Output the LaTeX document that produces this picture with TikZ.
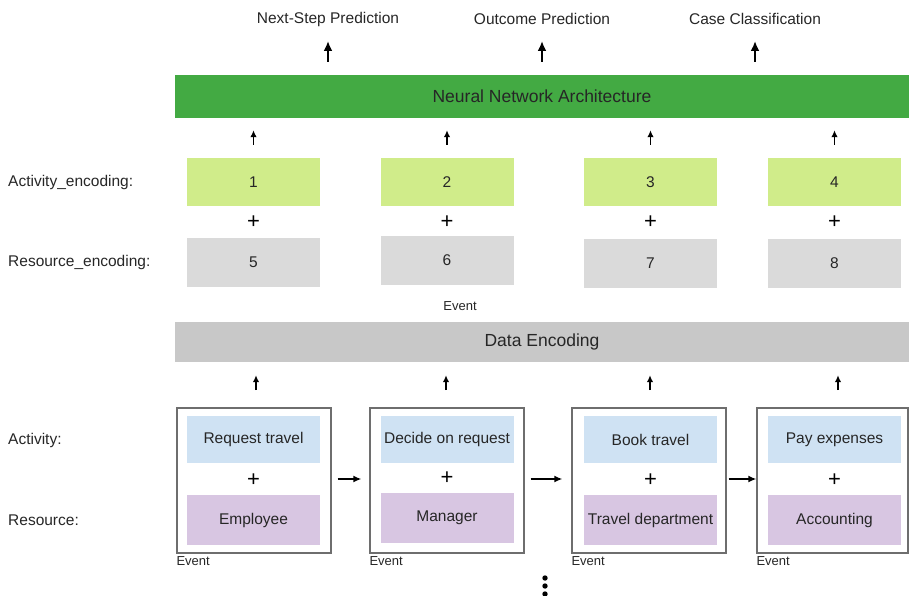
\documentclass[tikz,border=0pt]{standalone}
\usepackage{fontspec}
\setmainfont{Liberation Sans}
\usetikzlibrary{arrows.meta}
\definecolor{nngreen}{RGB}{67,170,67}
\definecolor{encgreen}{RGB}{208,236,138}
\definecolor{encgray}{RGB}{218,218,218}
\definecolor{debar}{RGB}{200,200,200}
\definecolor{actblue}{RGB}{207,226,243}
\definecolor{respurple}{RGB}{216,198,226}
\definecolor{evborder}{RGB}{110,110,110}
\begin{document}
\begin{tikzpicture}[x=1pt,y=-1pt,
  txt/.style={font=\fontsize{15.5}{18}\selectfont, text=black!85, inner sep=0pt},
  bartxt/.style={font=\fontsize{17.5}{20}\selectfont, text=black!85},
  small/.style={font=\fontsize{13}{15}\selectfont, text=black!85, inner sep=0pt},
  plus/.style={font=\fontsize{22}{24}\selectfont, inner sep=0pt},
  encA/.style={fill=encgreen, minimum width=133pt, minimum height=48pt, txt},
  encR/.style={fill=encgray, minimum width=133pt, minimum height=49pt, txt},
  actbox/.style={fill=actblue, minimum width=133pt, minimum height=47pt, txt},
  resbox/.style={fill=respurple, minimum width=133pt, minimum height=50pt, txt},
  evbox/.style={draw=evborder, line width=1.3pt, minimum height=145pt, inner sep=0pt},
  bigarr/.style={-{Latex[length=10pt,width=9pt]}, line width=2pt},
  smarr/.style={-{Latex[length=7pt,width=6.5pt]}, line width=1.4pt},
  harr/.style={-{Latex[length=8pt,width=7pt]}, line width=1.5pt}]
\useasboundingbox (0,0) rectangle (909,596);

% top outputs
\node[txt] (o1) at (328,19) {Next-Step Prediction};
\node[txt] (o2) at (542,19) {Outcome Prediction};
\node[txt] (o3) at (755,19) {Case Classification};

% neural network bar
\node[fill=nngreen, minimum width=734pt, minimum height=43pt, bartxt] (nn) at (542,96.5) {Neural Network Architecture};

\draw[bigarr] ([yshift=13pt]nn.north -| o1) -- (o1.south |- 0,41);
\draw[bigarr] ([yshift=13pt]nn.north -| o2) -- (o2.south |- 0,41);
\draw[bigarr] ([yshift=13pt]nn.north -| o3) -- (o3.south |- 0,41);

% left labels
\node[txt, anchor=west] (la) at (8,182) {Activity\_encoding:};
\node[txt, anchor=west] (lr) at (8,262) {Resource\_encoding:};
\node[txt, anchor=west] (lact) at (8,440) {Activity:};
\node[txt, anchor=west] (lres) at (8,520) {Resource:};

% encodings
\node[encA] (a1) at (253.5,182) {1};
\node[encA] (a2) at (447,182) {2};
\node[encA] (a3) at (650.5,182) {3};
\node[encA] (a4) at (834.5,182) {4};
\node[plus] (p1) at (253.5,222) {+};
\node[plus] (p2) at (447,222) {+};
\node[plus] (p3) at (650.5,222) {+};
\node[plus] (p4) at (834.5,222) {+};
\node[encR] (r1) at (253.5,262.5) {5};
\node[encR] (r2) at (447,260.5) {6};
\node[encR] (r3) at (650.5,263) {7};
\node[encR] (r4) at (834.5,263) {8};

\foreach \i in {1,2,3,4}{
  \draw[smarr] ([yshift=13pt]a\i.north) -- ([yshift=-12pt]nn.south -| a\i);
}

\node[small] (evmid) at (460,306) {Event};

% data encoding bar
\node[fill=debar, minimum width=734pt, minimum height=40pt, bartxt] (de) at (542,342) {Data Encoding};

% event boxes
\node[evbox, minimum width=154pt] (e1) at (254,480.5) {};
\node[evbox, minimum width=154pt] (e2) at (447,480.5) {};
\node[evbox, minimum width=154pt] (e3) at (649,480.5) {};
\node[evbox, minimum width=151pt] (e4) at (832.5,480.5) {};

\node[actbox] (b1) at (253.5,439.5) {Request travel};
\node[actbox] (b2) at (447,439.5) {Decide on request};
\node[actbox] (b3) at (650.5,439.5) {Book travel};
\node[actbox] (b4) at (834.5,439.5) {Pay expenses};
\node[plus] (q1) at (253.5,480) {+};
\node[plus] (q2) at (447,478) {+};
\node[plus] (q3) at (650.5,480) {+};
\node[plus] (q4) at (834.5,480) {+};
\node[resbox] (s1) at (253.5,520) {Employee};
\node[resbox] (s2) at (447,518) {Manager};
\node[resbox] (s3) at (650.5,520) {Travel department};
\node[resbox] (s4) at (834.5,520) {Accounting};

\coordinate (u1) at (256,390);
\coordinate (u2) at (446,390);
\coordinate (u3) at (650,390);
\coordinate (u4) at (838,390);
\foreach \i in {1,2,3,4}{
  \draw[smarr] (u\i) -- ([yshift=-13pt]de.south -| u\i);
}

\node[small, anchor=north west] (ev1) at ([yshift=-3pt]e1.south west) {Event};
\node[small, anchor=north west] (ev2) at ([yshift=-3pt]e2.south west) {Event};
\node[small, anchor=north west] (ev3) at ([yshift=-3pt]e3.south west) {Event};
\node[small, anchor=north west] (ev4) at ([yshift=-3pt]e4.south west) {Event};

\draw[harr] ([xshift=6pt]e1.east |- 0,479) -- ([xshift=-8pt]e2.west |- 0,479);
\draw[harr] ([xshift=6pt]e2.east |- 0,479) -- ([xshift=-9pt]e3.west |- 0,479);
\draw[harr] ([xshift=2pt]e3.east |- 0,479) -- (e4.west |- 0,479);

% dots
\fill (545,578) circle (2.7pt);
\fill (545,586) circle (2.7pt);
\fill (545,594) circle (2.7pt);
\end{tikzpicture}
\end{document}
